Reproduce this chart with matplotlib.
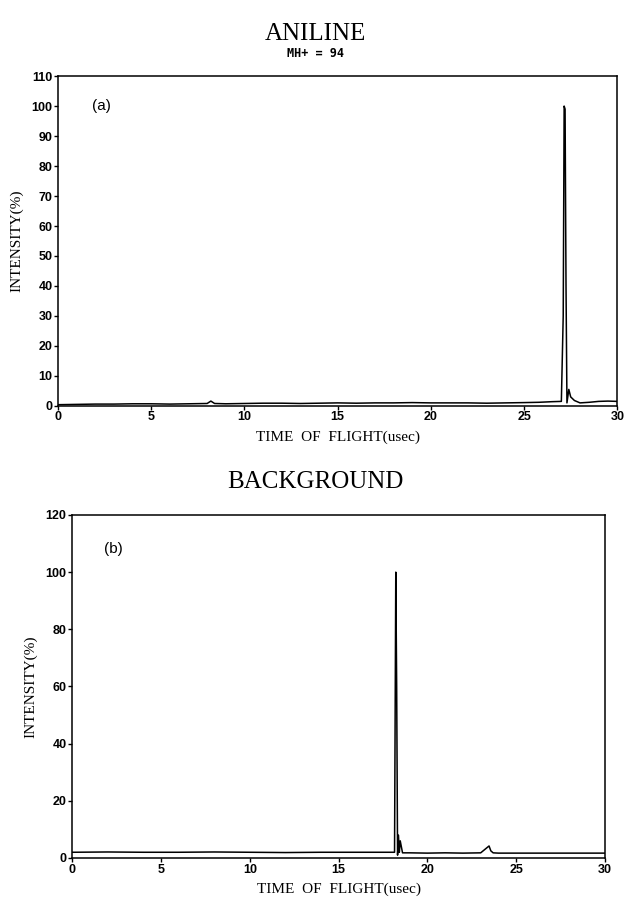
import numpy as np
import matplotlib
matplotlib.use('Agg')
import matplotlib.pyplot as plt

# (a) aniline spectrum
tof_a = [0, 1, 2, 3, 4, 5, 6, 7, 8, 8.2, 8.4, 9, 10, 11, 12, 13, 14, 15, 16, 17, 18, 19, 20,
         21, 22, 23, 24, 25, 25.8, 26.5, 27.0, 27.1, 27.15, 27.2, 27.25, 27.3, 27.4, 27.5,
         27.7, 28.0, 28.5, 29.0, 29.5, 30]
int_a = [0.4, 0.5, 0.6, 0.6, 0.7, 0.7, 0.6, 0.7, 0.8, 1.6, 0.8, 0.7, 0.8, 0.9, 0.9, 0.8, 0.9, 1.0, 0.9, 1.0, 1.0, 1.1, 1.0,
         1.0, 1.0, 0.9, 1.0, 1.1, 1.2, 1.4, 1.5, 30, 100, 99, 40, 1.0, 5.5, 3.0,
         1.8, 1.0, 1.2, 1.5, 1.6, 1.5]

# (b) background spectrum
tof_b = [0, 2, 4, 6, 8, 10, 12, 14, 16, 17.5, 18.15, 18.22, 18.27, 18.32, 18.37, 18.42, 18.47, 18.6,
         19, 20, 21, 22, 23, 23.47, 23.57, 23.7, 24, 26, 28, 30]
int_b = [2.0, 2.1, 2.0, 2.0, 2.1, 2.0, 1.9, 2.0, 2.0, 2.0, 2.0, 100, 60, 1.0, 8.0, 2.0, 6.0, 1.8,
         1.8, 1.7, 1.8, 1.7, 1.8, 4.2, 2.5, 1.8, 1.7, 1.7, 1.7, 1.7]

xticks = [0, 5, 10, 15, 20, 25, 30]
yticks_a = np.arange(0, 111, 10)
yticks_b = np.arange(0, 121, 20)

fig = plt.figure(figsize=(6.27, 9.06), dpi=100)
tickfont = dict(family='Liberation Sans', weight='bold', size=9)
labfont = dict(family='Liberation Serif', size=11)

def style(ax, yt, ymax):
    ax.set_xlim(0, 30)
    ax.set_ylim(0, ymax)
    ax.set_xticks(xticks)
    ax.set_yticks(yt)
    ax.set_xticklabels([str(v) for v in xticks], fontdict=tickfont)
    ax.set_yticklabels([str(v) for v in yt], fontdict=tickfont)
    ax.tick_params(direction='out', length=3, width=1, pad=1)
    for s in ax.spines.values():
        s.set_linewidth(1.1)
    ax.set_xlabel('TIME  OF  FLIGHT(usec)', fontdict=labfont, labelpad=5)
    ax.set_ylabel('INTENSITY(%)', fontdict=labfont, labelpad=6)

# top panel
ax1 = fig.add_axes([0.0925, 0.552, 0.892, 0.364])
ax1.plot(tof_a, int_a, color='black', lw=1.1)
style(ax1, yticks_a, 110)
ax1.text(1.8, 100, '(a)', fontsize=11, family='Liberation Sans', va='center')
fig.text(0.503, 0.963, 'ANILINE', ha='center', va='center', family='Liberation Serif', fontsize=18)
fig.text(0.503, 0.941, 'MH+ = 94', ha='center', va='center', family='DejaVu Sans Mono',
         weight='bold', fontsize=8.5)

# bottom panel
ax2 = fig.add_axes([0.115, 0.053, 0.85, 0.3786])
ax2.plot(tof_b, int_b, color='black', lw=1.1)
style(ax2, yticks_b, 120)
ax2.text(1.8, 108, '(b)', fontsize=11, family='Liberation Sans', va='center')
fig.text(0.503, 0.468, 'BACKGROUND', ha='center', va='center', family='Liberation Serif', fontsize=18)

fig.savefig('out.png', dpi=100)
